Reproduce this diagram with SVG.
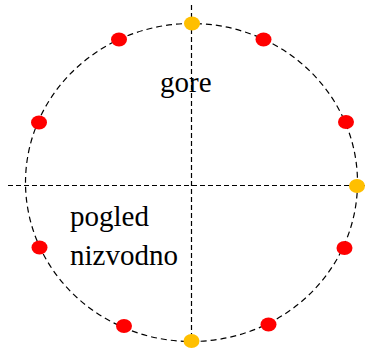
<svg xmlns="http://www.w3.org/2000/svg" width="370" height="349" viewBox="0 0 370 349">
<defs>
<ellipse id="dot" cx="0" cy="0" rx="8" ry="7"/>
</defs>
<rect width="370" height="349" fill="#fff"/>
<g id="connectors" fill="none" stroke="#000" stroke-width="1.2">
<ellipse cx="191.5" cy="182.5" rx="166" ry="159" stroke-dasharray="6,4"/>
<line x1="8" y1="185.5" x2="366" y2="185.5" stroke-dasharray="5,3"/>
<line x1="191.5" y1="5" x2="191.5" y2="341" stroke-dasharray="5,3"/>
</g>
<g id="labels">
<text x="160" y="92" font-family="Liberation Serif" font-size="29">gore</text>
<text x="70" y="226" font-family="Liberation Serif" font-size="29">pogled</text>
<text x="70" y="265" font-family="Liberation Serif" font-size="29">nizvodno</text>
</g>
<g id="p_top"><use href="#dot" x="192" y="23.5" fill="#ffbf00"/></g>
<g id="p_right"><use href="#dot" x="357" y="186" fill="#ffbf00"/></g>
<g id="p_bottom"><use href="#dot" x="191.5" y="341" fill="#ffbf00"/></g>
<g id="r1"><use href="#dot" x="119" y="39.5" fill="#ff0000"/></g>
<g id="r2"><use href="#dot" x="263.5" y="39.5" fill="#ff0000"/></g>
<g id="r3"><use href="#dot" x="39" y="122.5" fill="#ff0000"/></g>
<g id="r4"><use href="#dot" x="346" y="122" fill="#ff0000"/></g>
<g id="r5"><use href="#dot" x="39.5" y="247.5" fill="#ff0000"/></g>
<g id="r6"><use href="#dot" x="344.5" y="248" fill="#ff0000"/></g>
<g id="r7"><use href="#dot" x="124" y="326" fill="#ff0000"/></g>
<g id="r8"><use href="#dot" x="268.5" y="324.5" fill="#ff0000"/></g>
</svg>
